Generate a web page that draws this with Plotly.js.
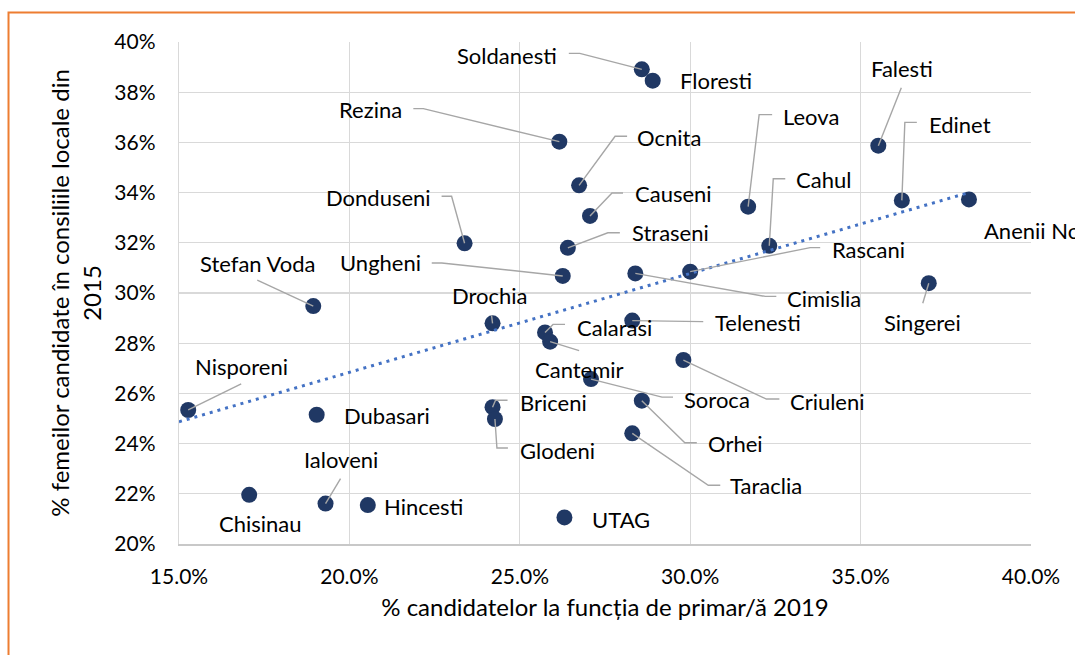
<!DOCTYPE html>
<html>
<head>
<meta charset="utf-8">
<script src="https://cdn.plot.ly/plotly-3.0.1.min.js"></script>
<style>html,body{margin:0;padding:0;background:#fff;}#chart{width:1075px;height:655px;}</style>
</head>
<body>
<div id="chart"></div>
<script>
// ---- data (percent) ----
var names = ['Soldanesti','Floresti','Rezina','Ocnita','Causeni','Donduseni','Straseni','Ungheni','Leova','Cahul','Rascani','Cimislia','Falesti','Edinet','Anenii Noi','Singerei','Telenesti','Stefan Voda','Drochia','Calarasi','Cantemir','Criuleni','Soroca','Orhei','Taraclia','Briceni','Glodeni','UTAG','Hincesti','Ialoveni','Chisinau','Dubasari','Nisporeni'];
var xVals = [28.58,28.90,26.16,26.74,27.06,23.38,26.41,26.26,31.70,32.32,30.00,28.39,35.52,36.21,38.18,37.00,28.30,18.94,24.20,25.74,25.89,29.80,27.09,28.58,28.30,24.20,24.27,26.31,20.54,19.30,17.06,19.04,15.27];
var yVals = [38.91,38.46,36.03,34.29,33.07,31.98,31.80,30.68,33.44,31.88,30.85,30.78,35.87,33.69,33.73,30.39,28.90,29.48,28.79,28.43,28.06,27.33,26.57,25.71,24.41,25.45,24.98,21.06,21.55,21.61,21.96,25.15,25.34];
var trendX = [15, 38.18];
var trendY = [24.87, 34.0];
var xTicks = [15, 20, 25, 30, 35, 40];
var yTicks = [20, 22, 24, 26, 28, 30, 32, 34, 36, 38, 40];

// ---- label placement (pixel offsets from the point; screen y down) ----
var place = {
 'Soldanesti':{a:'r',dx:-83,dy:-14,l:[[-73,-16],[-62,-16],[0,0]]},
 'Floresti':{a:'l',dx:25,dy:0},
 'Rezina':{a:'r',dx:-155,dy:-32,l:[[-146,-33],[-136,-33],[0,0]]},
 'Ocnita':{a:'l',dx:56,dy:-48,l:[[48,-49],[36,-49],[0,0]]},
 'Causeni':{a:'l',dx:43,dy:-22,l:[[33,-23],[22,-23],[0,0]]},
 'Donduseni':{a:'r',dx:-32,dy:-46,l:[[-23,-47],[-13,-47],[0,0]]},
 'Straseni':{a:'l',dx:62,dy:-15,l:[[52,-15],[40,-15],[0,0]]},
 'Ungheni':{a:'r',dx:-140,dy:-13,l:[[-131,-13],[-121,-13],[0,0]]},
 'Leova':{a:'l',dx:33,dy:-90,l:[[24,-92],[11,-92],[0,0]]},
 'Cahul':{a:'l',dx:25,dy:-66,l:[[16,-67],[4,-67],[0,0]]},
 'Rascani':{a:'l',dx:140,dy:-22,l:[[130,-24],[120,-24],[0,0]]},
 'Cimislia':{a:'l',dx:150,dy:25,l:[[141,23],[130,23],[0,0]]},
 'Falesti':{a:'c',dx:24,dy:-77,l:[[23,-58],[0,0]]},
 'Edinet':{a:'l',dx:25,dy:-76,l:[[15,-78],[3,-78],[0,0]]},
 'Anenii Noi':{a:'l',dx:13,dy:31},
 'Singerei':{a:'c',dx:-6,dy:39,l:[[-6,20],[0,0]]},
 'Telenesti':{a:'l',dx:81,dy:2,l:[[71,1],[0,0]]},
 'Stefan Voda':{a:'c',dx:-56,dy:-43,l:[[-56,-26],[0,0]]},
 'Drochia':{a:'c',dx:-3,dy:-28,l:[[-1,-8],[0,0]]},
 'Calarasi':{a:'l',dx:30,dy:-5,l:[[20,-8],[8,-8],[0,0]]},
 'Cantemir':{a:'c',dx:29,dy:28,l:[[29,9],[0,0]]},
 'Criuleni':{a:'l',dx:105,dy:41,l:[[96,39],[83,39],[0,0]]},
 'Soroca':{a:'l',dx:91,dy:20,l:[[82,18],[71,18],[0,0]]},
 'Orhei':{a:'l',dx:64,dy:43,l:[[55,42],[43,42],[0,0]]},
 'Taraclia':{a:'l',dx:96,dy:52,l:[[88,52],[76,52],[0,0]]},
 'Briceni':{a:'l',dx:25,dy:-5,l:[[15,-7],[3,-7],[0,0]]},
 'Glodeni':{a:'l',dx:23,dy:31,l:[[13,29],[2,29],[0,0]]},
 'UTAG':{a:'l',dx:26,dy:2},
 'Hincesti':{a:'l',dx:14,dy:1},
 'Ialoveni':{a:'c',dx:15,dy:-44,l:[[15,-25],[0,0]]},
 'Chisinau':{a:'c',dx:11,dy:29},
 'Dubasari':{a:'l',dx:25,dy:1},
 'Nisporeni':{a:'c',dx:53,dy:-43,l:[[53,-26],[0,0]]}
};

var FONT = 'Lato, "Open Sans", sans-serif';
var anchorMap = {l:'left', r:'right', c:'center'};
var annotations = [];
var shapes = [];
names.forEach(function(n, i){
  var p = place[n];
  annotations.push({
    x: xVals[i], y: yVals[i], xref:'x', yref:'y', text: n, showarrow:false,
    xanchor: anchorMap[p.a], yanchor:'middle', xshift: p.dx, yshift: -p.dy,
    font:{family:FONT, size:22, color:'#000'}
  });
  if (p.l) {
    var path = 'M ' + p.l.map(function(q){ return q[0] + ',' + (-q[1]); }).join(' L ');
    shapes.push({type:'path', xref:'x', yref:'y', xsizemode:'pixel', ysizemode:'pixel',
      xanchor: xVals[i], yanchor: yVals[i], path: path,
      line:{color:'#a6a6a6', width:1.4}});
  }
});
// orange frame
shapes.push({type:'path', xref:'paper', yref:'paper',
  path:'M -0.2001,-0.3 L -0.2001,1.0588 L 1.2,1.0588',
  line:{color:'#ed7d31', width:2}});

var traces = [
  {type:'scatter', mode:'markers', x:xVals, y:yVals, text:names,
   marker:{color:'#203864', size:16}, hoverinfo:'text+x+y', showlegend:false},
  {type:'scatter', mode:'lines', x:trendX, y:trendY,
   line:{color:'#4472c4', width:3, dash:'3px,5px'}, hoverinfo:'skip', showlegend:false}
];

var layout = {
  width:1075, height:655,
  margin:{l:179, r:44, t:42, b:111, pad:0},
  paper_bgcolor:'#fff', plot_bgcolor:'#fff',
  showlegend:false,
  xaxis:{range:[15,40], tickvals:xTicks, ticktext:xTicks.map(function(v){return v.toFixed(1)+'%';}),
    showgrid:true, gridcolor:'#d9d9d9', gridwidth:1.3, zeroline:false,
    showline:true, linecolor:'#c8c8c8', linewidth:1.5, mirror:false,
    ticks:'outside', ticklen:13, tickcolor:'rgba(0,0,0,0)',
    tickfont:{family:FONT, size:21, color:'#000'},
    title:{text:'% candidatelor la funcția de primar/ă 2019', font:{family:FONT, size:24, color:'#000'}, standoff:12}},
  yaxis:{range:[20,40], tickvals:yTicks, ticktext:yTicks.map(function(v){return v+'%';}),
    showgrid:true, gridcolor:'#d9d9d9', gridwidth:1.3, zeroline:false,
    showline:true, linecolor:'#d9d9d9', linewidth:1.3, mirror:false,
    ticks:'outside', ticklen:18, tickcolor:'rgba(0,0,0,0)',
    tickfont:{family:FONT, size:21, color:'#000'},
    title:{text:'% femeilor candidate în consiliile locale din<br>2015', font:{family:FONT, size:24, color:'#000'}, standoff:6}},
  annotations: annotations,
  shapes: shapes
};

Plotly.newPlot('chart', traces, layout, {displayModeBar:false, staticPlot:true});
</script>
</body>
</html>
